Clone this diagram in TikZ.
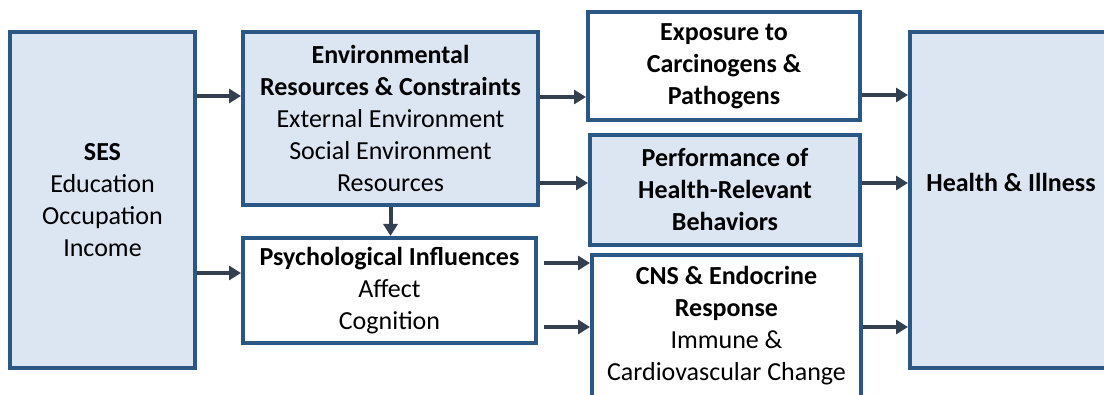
\documentclass[tikz,border=0pt]{standalone}
\usepackage{fontspec}
\setmainfont{Carlito}
\usetikzlibrary{arrows.meta}
\definecolor{boxline}{HTML}{2A5783}
\definecolor{boxfill}{HTML}{DCE6F2}
\definecolor{arrowcol}{HTML}{353F52}
\tikzset{
  blockbox/.style={draw=boxline, line width=2pt, align=center, inner sep=0pt,
    font=\fontsize{13}{16}\selectfont},
  bluebox/.style={blockbox, fill=boxfill},
  whitebox/.style={blockbox, fill=white},
  flow/.style={draw=arrowcol, line width=2pt, -{Triangle[length=6pt,width=7pt]}},
}
\begin{document}
\begin{tikzpicture}[x=0.5pt,y=-0.5pt]
    % 图幅与裁剪
    \useasboundingbox (0,0) rectangle (1104,395);
    \clip (0,0) rectangle (1104,395);
    % 方框
    \node[bluebox, minimum width=92.5pt, minimum height=168pt] (ses) at (102.5,200)
        {\textbf{SES}\\ Education\\ Occupation\\ Income};
    \node[bluebox, minimum width=147.5pt, minimum height=86.5pt] (env) at (390.5,118.5)
        {\textbf{Environmental}\\ \textbf{Resources \& Constraints}\\ External Environment\\ Social Environment\\ Resources};
    \node[whitebox, minimum width=146.5pt, minimum height=52.5pt] (psych) at (389.5,290.5)
        {\textbf{Psychological Influences}\\ Affect\\ Cognition};
    \node[whitebox, minimum width=136pt, minimum height=54pt] (expo) at (724,66)
        {\textbf{Exposure to}\\ \textbf{Carcinogens \&}\\ \textbf{Pathogens}};
    \node[bluebox, minimum width=135pt, minimum height=55pt] (behav) at (725,190)
        {\textbf{Performance of}\\ \textbf{Health-Relevant}\\ \textbf{Behaviors}};
    \node[whitebox, minimum width=134.5pt, minimum height=71pt] (cns) at (726.5,326)
        {\textbf{CNS \& Endocrine}\\ \textbf{Response}\\ Immune \&\\ Cardiovascular Change};
    % 文字比方框中心略高
    \node[bluebox, minimum width=101pt, minimum height=168pt, text height=9pt, text depth=17pt] (health) at (1011,200)
        {\textbf{Health \& Illness}};
    % 箭头
    \draw[flow] (ses.east |- 0,96) -- (env.west |- 0,96);
    \draw[flow] (ses.east |- 0,273) -- (psych.west |- 0,273);
    \draw[flow] (env.south) -- (env.south |- psych.north);
    \draw[flow] (env.east |- 0,97) -- (expo.west |- 0,97);
    \draw[flow] (env.east |- 0,183) -- (behav.west |- 0,183);
    \draw[flow] ([xshift=3pt]psych.east |- 0,263) -- (cns.west |- 0,263);
    \draw[flow] ([xshift=3pt]psych.east |- 0,327) -- (cns.west |- 0,327);
    \draw[flow] (expo.east |- 0,95) -- (health.west |- 0,95);
    \draw[flow] (behav.east |- 0,183) -- (health.west |- 0,183);
    \draw[flow] (cns.east |- 0,327) -- (health.west |- 0,327);
\end{tikzpicture}
\end{document}
